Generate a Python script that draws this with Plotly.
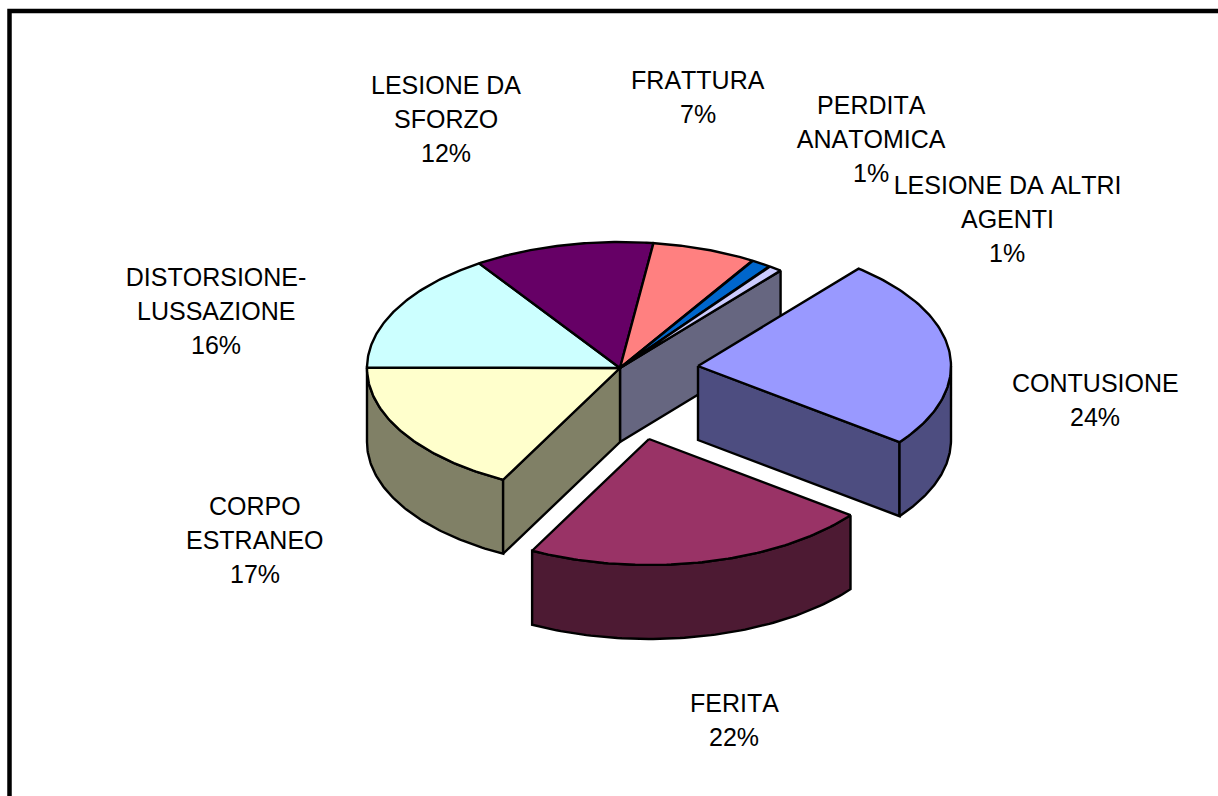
import numpy as np
import plotly.graph_objects as go

categories = ["CONTUSIONE", "FERITA", "CORPO ESTRANEO", "DISTORSIONE-LUSSAZIONE",
              "LESIONE DA SFORZO", "FRATTURA", "PERDITA ANATOMICA", "LESIONE DA ALTRI AGENTI"]
values = [24.49, 22.4, 17.49, 15.6, 11.56, 6.67, 1.3, 0.9]
label_lines = [["CONTUSIONE"], ["FERITA"], ["CORPO", "ESTRANEO"], ["DISTORSIONE-", "LUSSAZIONE"],
               ["LESIONE DA", "SFORZO"], ["FRATTURA"], ["PERDITA", "ANATOMICA"], ["LESIONE DA ALTRI", "AGENTI"]]
label_x = [1095, 734, 255, 216, 446, 698, 871, 1007]
label_y = [383, 703, 506, 277, 85, 80, 105, 185]
top_colors = ["#9999FF", "#993366", "#FFFFCC", "#CCFFFF", "#660066", "#FF8080", "#0066CC", "#CCCCFF"]
side_colors = ["#4D4D80", "#4D1A33", "#808066", "#668080", "#330033", "#804040", "#003366", "#666680"]

CX, CY, RX, RY, DEPTH = 620, 368, 253, 126, 74
START = 39.4
OFFSETS = {0: (78, -2), 1: (29, 71)}
LW = 2.4
LINE_STEP = 33.8

total = sum(values)
edges = START + np.cumsum([0] + values) * 360 / total
pct = [f"{round(v / total * 100)}%" for v in values]

fig = go.Figure()


def pt(theta, ox=0, oy=0, dz=0):
    t = np.radians(theta)
    return CX + ox + RX * np.sin(t), CY + oy - RY * np.cos(t) + dz


def poly(xs, ys, color):
    fig.add_trace(go.Scatter(x=list(xs) + [xs[0]], y=list(ys) + [ys[0]], mode="lines", fill="toself",
                             fillcolor=color, line=dict(color="black", width=LW, shape="linear"),
                             hoverinfo="skip", showlegend=False))


def top(i):
    ox, oy = OFFSETS.get(i, (0, 0))
    th = np.linspace(edges[i], edges[i + 1], 80)
    x, y = pt(th, ox, oy)
    poly([CX + ox] + list(x), [CY + oy] + list(y), top_colors[i])


def wall(i):
    ox, oy = OFFSETS.get(i, (0, 0))
    a, b = max(edges[i], 90), min(edges[i + 1], 270)
    if b <= a:
        return
    th = np.linspace(a, b, 80)
    x1, y1 = pt(th, ox, oy)
    x2, y2 = pt(th[::-1], ox, oy, DEPTH)
    poly(list(x1) + list(x2), list(y1) + list(y2), side_colors[i])


def face(i, theta):
    ox, oy = OFFSETS.get(i, (0, 0))
    x, y = pt(theta, ox, oy)
    ax, ay = CX + ox, CY + oy
    poly([ax, x, x, ax], [ay, y, y + DEPTH, ay + DEPTH], side_colors[i])


# main body (non exploded slices)
for i in range(2, 8):
    wall(i)
face(7, edges[8])
face(2, edges[2])
for i in range(2, 8):
    top(i)
# exploded slices
face(0, edges[1])
wall(0)
top(0)
wall(1)
top(1)

fig.add_trace(go.Scatter(x=[9.5, 9.5, 1218], y=[796, 11, 11], mode="lines",
                         line=dict(color="black", width=4.5), hoverinfo="skip", showlegend=False))

for i in range(8):
    for k, text in enumerate(label_lines[i] + [pct[i]]):
        fig.add_annotation(x=label_x[i], y=label_y[i] + k * LINE_STEP, text=text, showarrow=False,
                           xanchor="center", yanchor="middle", align="center",
                           font=dict(family="Liberation Sans, Arial, sans-serif", size=25, color="black"))

fig.update_layout(width=1218, height=796, margin=dict(l=0, r=0, t=0, b=0), autosize=False,
                  paper_bgcolor="white", plot_bgcolor="white",
                  xaxis=dict(range=[0, 1218], visible=False, fixedrange=True),
                  yaxis=dict(range=[796, 0], visible=False, fixedrange=True))
fig.write_html("out.html", config={"displayModeBar": False},
               post_script="document.body.style.margin='0';document.documentElement.style.overflow='hidden';"
                           "var s=document.createElement('style');s.textContent='svg text{font-kerning:none}';"
                           "document.head.appendChild(s);")
